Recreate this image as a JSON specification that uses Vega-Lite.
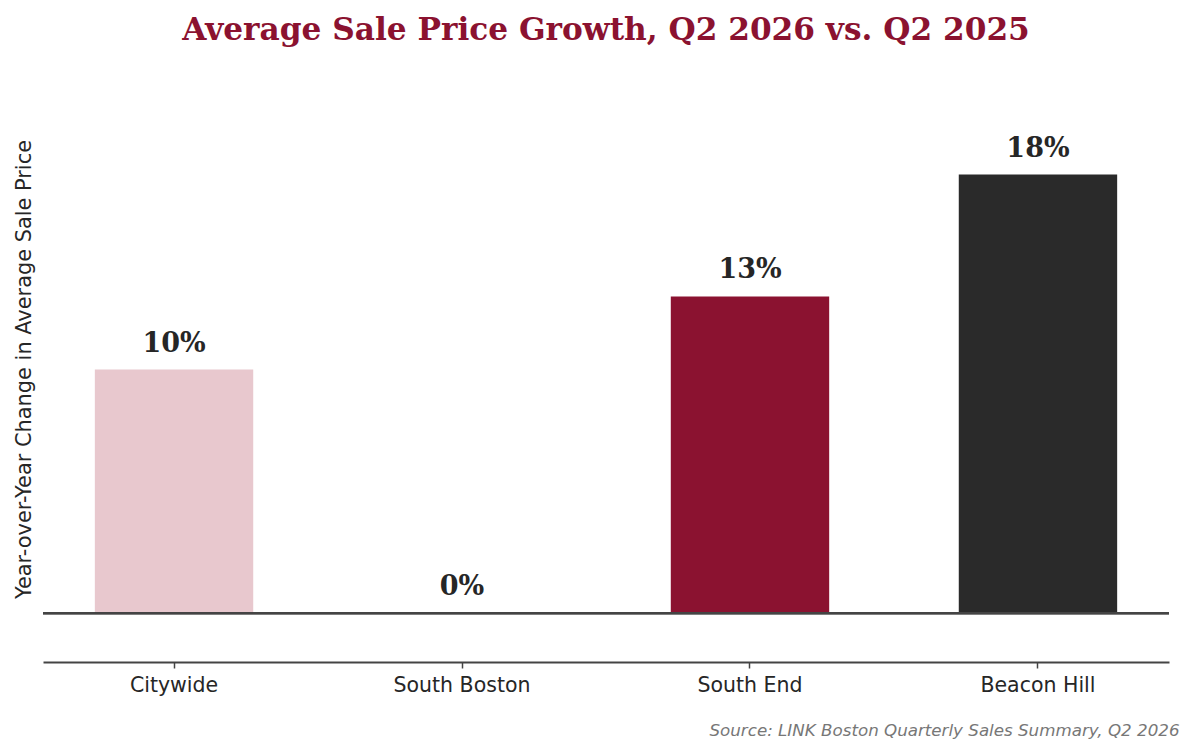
{
  "$schema": "https://vega.github.io/schema/vega-lite/v6.json",
  "autosize": "none",
  "width": 1126,
  "height": 585,
  "padding": {"left": 43, "top": 77, "right": 25, "bottom": 92},
  "background": "white",
  "config": {"view": {"stroke": null}},
  "title": {
    "text": "Average Sale Price Growth, Q2 2026 vs. Q2 2025",
    "font": "DejaVu Serif",
    "fontWeight": "bold",
    "fontSize": 31.2,
    "color": "#8b1230",
    "anchor": "middle",
    "baseline": "alphabetic",
    "offset": 6
  },
  "data": {
    "values": [
      {"area": "Citywide", "change": 0.10, "group": "Citywide"},
      {"area": "South Boston", "change": 0.00, "group": "South Boston"},
      {"area": "South End", "change": 0.13, "group": "South End"},
      {"area": "Beacon Hill", "change": 0.18, "group": "Beacon Hill"}
    ]
  },
  "encoding": {
    "x": {
      "field": "area",
      "type": "nominal",
      "sort": null,
      "scale": {"paddingInner": 0.45, "paddingOuter": 0.18},
      "title": "Source: LINK Boston Quarterly Sales Summary, Q2 2026",
      "axis": {
        "labelAngle": 0,
        "labelFont": "DejaVu Sans",
        "labelFontSize": 20.5,
        "labelColor": "#262626",
        "labelPadding": 7,
        "domainColor": "#444444",
        "domainWidth": 2,
        "tickColor": "#444444",
        "tickWidth": 1.5,
        "tickSize": 6,
        "titleFont": "DejaVu Sans",
        "titleFontStyle": "italic",
        "titleFontWeight": "normal",
        "titleFontSize": 16.7,
        "titleColor": "#777777",
        "titleAlign": "right",
        "titleAnchor": "end",
        "titleBaseline": "alphabetic",
        "titleX": 1136,
        "titleY": 73
      }
    },
    "y": {
      "field": "change",
      "type": "quantitative",
      "scale": {"domain": [-0.02, 0.22], "nice": false, "zero": false},
      "title": "Year-over-Year Change in Average Sale Price",
      "axis": {
        "domain": false,
        "ticks": false,
        "labels": false,
        "grid": false,
        "titleFont": "DejaVu Sans",
        "titleFontSize": 20.9,
        "titleFontWeight": "normal",
        "titleColor": "#262626",
        "titleAngle": -90,
        "titleAlign": "center",
        "titleBaseline": "alphabetic",
        "titleX": -13,
        "titleY": 292
      }
    }
  },
  "layer": [
    {
      "mark": {"type": "bar"},
      "encoding": {
        "y2": {"datum": 0},
        "color": {
          "field": "group",
          "type": "nominal",
          "scale": {
            "domain": ["Citywide", "South Boston", "South End", "Beacon Hill"],
            "range": ["#e8c8ce", "#cccccc", "#8b1230", "#2a2a2a"]
          },
          "legend": null
        }
      }
    },
    {
      "mark": {"type": "rule", "color": "#444444", "strokeWidth": 2},
      "encoding": {"y": {"datum": 0}, "x": {"value": 0}, "x2": {"value": 1126}}
    },
    {
      "mark": {
        "type": "text",
        "font": "DejaVu Serif",
        "fontWeight": "bold",
        "fontSize": 27,
        "color": "#262626",
        "baseline": "alphabetic",
        "align": "center",
        "dy": -18
      },
      "encoding": {
        "text": {"field": "change", "type": "quantitative", "format": ".0%"}
      }
    }
  ]
}
